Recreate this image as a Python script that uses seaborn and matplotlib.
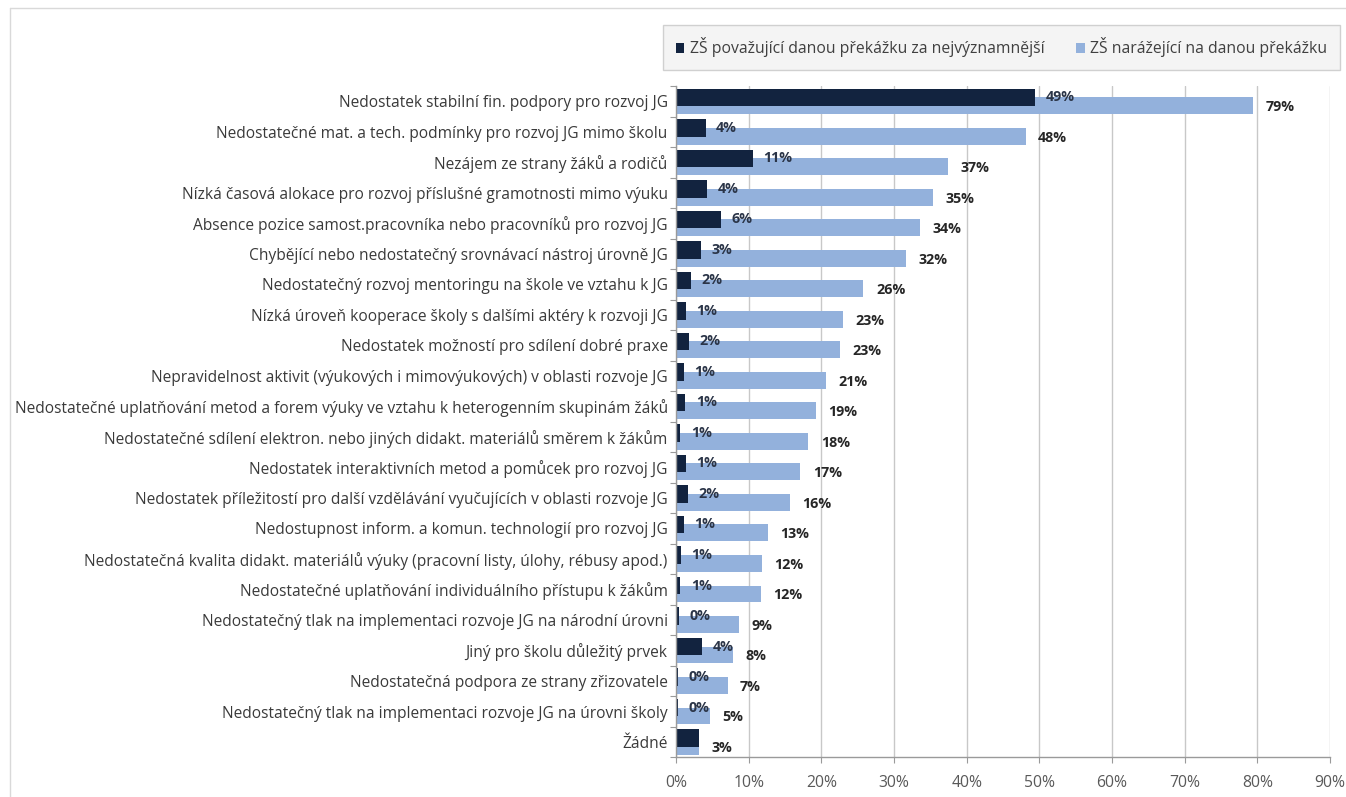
import numpy as np
import pandas as pd
import seaborn as sns
import matplotlib.pyplot as plt
from matplotlib.patches import Rectangle
from matplotlib.lines import Line2D

# ---- data -------------------------------------------------------------
categories = [
    "Nedostatek stabilní fin. podpory pro rozvoj JG",
    "Nedostatečné mat. a tech. podmínky pro rozvoj JG mimo školu",
    "Nezájem ze strany žáků a rodičů",
    "Nízká časová alokace pro rozvoj příslušné gramotnosti mimo výuku",
    "Absence pozice samost.pracovníka nebo pracovníků pro rozvoj JG",
    "Chybějící nebo nedostatečný srovnávací nástroj úrovně JG",
    "Nedostatečný rozvoj mentoringu na škole ve vztahu k JG",
    "Nízká úroveň kooperace školy s dalšími aktéry k rozvoji JG",
    "Nedostatek možností pro sdílení dobré praxe",
    "Nepravidelnost aktivit (výukových i mimovýukových) v oblasti rozvoje JG",
    "Nedostatečné uplatňování metod a forem výuky ve vztahu k heterogenním skupinám žáků",
    "Nedostatečné sdílení elektron. nebo jiných didakt. materiálů směrem k žákům",
    "Nedostatek interaktivních metod a pomůcek pro rozvoj JG",
    "Nedostatek příležitostí pro další vzdělávání vyučujících v oblasti rozvoje JG",
    "Nedostupnost inform. a komun. technologií pro rozvoj JG",
    "Nedostatečná kvalita didakt. materiálů výuky (pracovní listy, úlohy, rébusy apod.)",
    "Nedostatečné uplatňování individuálního přístupu k žákům",
    "Nedostatečný tlak na implementaci rozvoje JG na národní úrovni",
    "Jiný pro školu důležitý prvek",
    "Nedostatečná podpora ze strany zřizovatele",
    "Nedostatečný tlak na implementaci rozvoje JG na úrovni školy",
    "Žádné",
]

# share of schools (%) naming the obstacle as the most significant one
most_significant = [49.4, 4.1, 10.6, 4.3, 6.2, 3.4, 2.1, 1.4, 1.8, 1.1, 1.3,
                    0.6, 1.4, 1.6, 1.1, 0.65, 0.6, 0.45, 3.6, 0.25, 0.25, 3.2]
# share of schools (%) facing the obstacle
encountered = [79.4, 48.1, 37.4, 35.3, 33.6, 31.6, 25.8, 23.0, 22.6, 20.6, 19.2,
               18.2, 17.1, 15.7, 12.6, 11.8, 11.7, 8.7, 7.9, 7.1, 4.7, 3.2]

series_names = ["ZŠ považující danou překážku za nejvýznamnější",
                "ZŠ narážející na danou překážku"]
x_ticks = [0, 10, 20, 30, 40, 50, 60, 70, 80, 90]

DARK = "#12233f"
LIGHT = "#93b1dc"

# ---- style ------------------------------------------------------------
sns.set_theme(style="white")
plt.rcParams["font.family"] = ["Open Sans", "DejaVu Sans"]

W, H = 1346, 797
fig = plt.figure(figsize=(W / 100, H / 100), dpi=100)
fig.patch.set_facecolor("white")

ax_left, ax_right, ax_top, ax_bottom = 676, 1330, 86, 757.3
ax = fig.add_axes([ax_left / W, 1 - ax_bottom / H,
                   (ax_right - ax_left) / W, (ax_bottom - ax_top) / H])

rows = np.arange(len(categories))
df_light = pd.DataFrame({"value": encountered, "pos": rows + 0.145})
df_dark = pd.DataFrame({"value": most_significant, "pos": rows - 0.13})

sns.barplot(data=df_light, x="value", y="pos", orient="h", native_scale=True,
            width=0.55, color=LIGHT, saturation=1, errorbar=None, ax=ax,
            linewidth=0, zorder=3)
sns.barplot(data=df_dark, x="value", y="pos", orient="h", native_scale=True,
            width=0.57, color=DARK, saturation=1, errorbar=None, ax=ax,
            linewidth=0, zorder=4)

# value labels
for i, (d, l) in enumerate(zip(most_significant, encountered)):
    ax.annotate(f"{l:.0f}%", xy=(l, i + 0.145), xytext=(9, -1),
                textcoords="offset points", ha="left", va="center",
                fontsize=10.3, fontweight="bold", color="#262626", zorder=6)
    if abs(d - l) > 0.5:
        ax.annotate(f"{d:.0f}%", xy=(d, i - 0.13), xytext=(7.5, 0),
                    textcoords="offset points", ha="left", va="center",
                    fontsize=10.3, fontweight="bold", color="#2b3548", zorder=6)

# axes
ax.set_xlim(0, 90)
ax.set_ylim(len(categories) - 0.5, -0.5)
ax.set_xticks(x_ticks)
ax.set_xticklabels([f"{t}%" for t in x_ticks])
ax.set_yticks(rows)
ax.set_yticklabels(categories)
ax.set_yticks(np.arange(len(categories) + 1) - 0.5, minor=True)
ax.set_xlabel("")
ax.set_ylabel("")

ax.tick_params(axis="y", which="major", length=0, pad=6, labelsize=11.2,
               labelcolor="#3a3a3a")
ax.tick_params(axis="y", which="minor", length=4, width=0.8, color="#9a9a9a",
               direction="out", left=True)
ax.tick_params(axis="x", which="major", length=4, width=0.8, color="#9a9a9a",
               direction="out", bottom=True, pad=9, labelsize=11.3,
               labelcolor="#595959")

ax.grid(axis="x", color="#c8c8c8", linewidth=1, zorder=0)
ax.grid(axis="y", visible=False)
ax.set_axisbelow(True)
for side in ("top", "right"):
    ax.spines[side].set_visible(False)
for side in ("left", "bottom"):
    ax.spines[side].set_color("#9a9a9a")
    ax.spines[side].set_linewidth(1)
    ax.spines[side].set_zorder(5)

# outer chart border (top and left edges)
fig.add_artist(Line2D([10 / W, 1], [1 - 8 / H, 1 - 8 / H], color="#d9d9d9",
                      linewidth=1, transform=fig.transFigure))
fig.add_artist(Line2D([10 / W, 10 / W], [0, 1 - 8 / H], color="#d9d9d9",
                      linewidth=1, transform=fig.transFigure))

# legend spanning a fixed box above the plot
handles = [Rectangle((0, 0), 1, 1, facecolor=DARK, edgecolor="none"),
           Rectangle((0, 0), 1, 1, facecolor=LIGHT, edgecolor="none")]
leg = fig.legend(handles, series_names, ncol=2, mode="expand",
                 loc="lower left",
                 bbox_to_anchor=(663 / W, 1 - 70 / H, 677 / W, 41 / H),
                 frameon=True, fancybox=False, fontsize=11.3,
                 handlelength=0.55, handleheight=0.55, handletextpad=0.35,
                 borderpad=0.8, borderaxespad=0, labelcolor="#404040")
frame = leg.get_frame()
frame.set_facecolor("#f2f2f2")
frame.set_edgecolor("#c6c6c6")
frame.set_linewidth(1)

fig.savefig("out.png", dpi=100, facecolor="white")
